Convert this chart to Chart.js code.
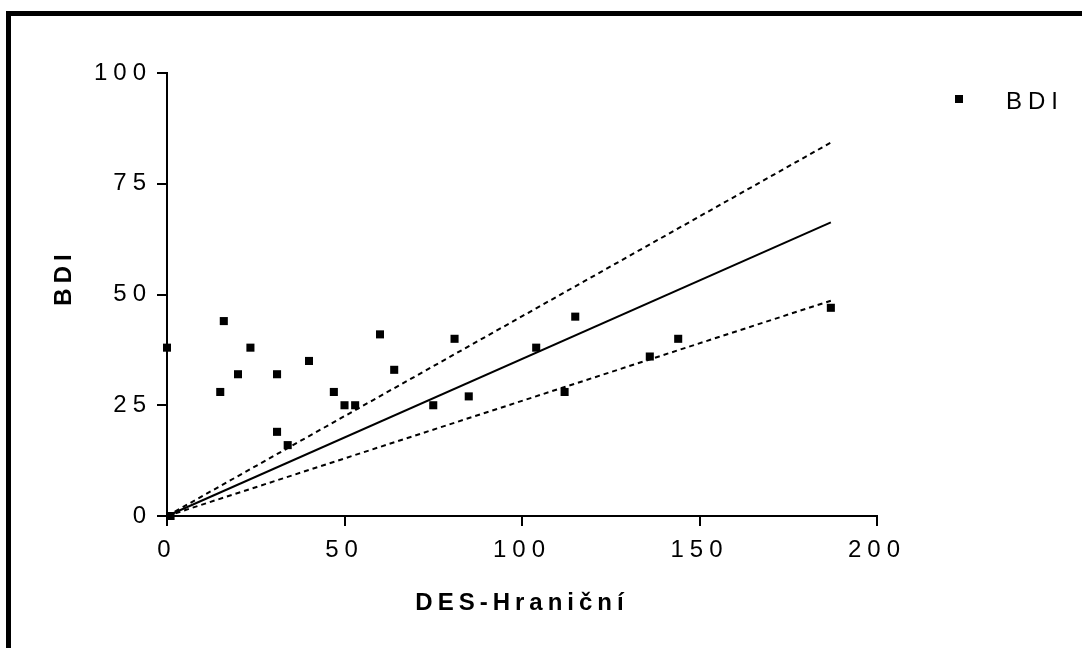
<!DOCTYPE html>
<html><head><meta charset="utf-8">
<script src="https://cdn.jsdelivr.net/npm/chart.js@4/dist/chart.umd.min.js"></script>
<style>
html,body{margin:0;padding:0;background:#fff;overflow:hidden;width:1082px;height:648px;}
#frame{position:absolute;left:6px;top:11px;width:1200px;height:800px;border-left:5px solid #000;border-top:5px solid #000;}
#wrap{position:absolute;left:0;top:0;width:1082px;height:648px;}
</style></head><body>
<div id="frame"></div>
<div id="wrap"><canvas id="c" width="1082" height="648"></canvas></div>
<script>
// Data
const desValues = [0, 1, 15, 16, 20, 23.5, 31, 31, 34, 40, 47, 50, 53, 60, 64, 75, 81, 85, 104, 112, 115, 136, 144, 187];
const bdiValues = [38, 0, 28, 44, 32, 38, 32, 19, 16, 35, 28, 25, 25, 41, 33, 25, 40, 27, 38, 28, 45, 36, 40, 47];
const fitX = [0, 187];
const fitY = [0, 66.3];
const upperY = [0, 84.3];
const lowerY = [0, 48.6];
const xTicks = [0, 50, 100, 150, 200];
const yTicks = [0, 25, 50, 75, 100];
const seriesLabel = 'BDI';
const xTitle = 'DES-Hraniční';
const yTitle = 'BDI';

const FONT = '"Liberation Sans", Arial, sans-serif';
const LS = '6px';
const TITLE_LS = '5px';

const toPts = (xs, ys) => xs.map((x, i) => ({x: x, y: ys[i]}));

const spacingPlugin = {
  id: 'spacing',
  beforeUpdate(chart){ chart.ctx.letterSpacing = LS; },
  beforeLayout(chart){ chart.ctx.letterSpacing = LS; },
  beforeDraw(chart){ chart.ctx.letterSpacing = LS; }
};

function patchTitle(s, dy){
  if (s._titlePatched) return;
  const orig = s.drawTitle.bind(s);
  s.drawTitle = function(){
    const c = s.ctx;
    const prev = c.letterSpacing;
    c.save();
    c.letterSpacing = TITLE_LS;
    c.translate(0, dy);
    orig();
    c.restore();
    c.letterSpacing = prev;
  };
  s._titlePatched = true;
}

const legendPlugin = {
  id: 'customLegend',
  afterDraw(chart){
    const ctx = chart.ctx;
    const ds = chart.data.datasets[0];
    const x0 = chart.chartArea.right + 82, y0 = chart.chartArea.top + 26;
    ctx.save();
    ctx.fillStyle = ds.backgroundColor;
    ctx.fillRect(x0 - 4, y0 - 4, 8, 8);
    ctx.font = '24px ' + FONT;
    ctx.letterSpacing = LS;
    ctx.textBaseline = 'middle';
    ctx.textAlign = 'left';
    ctx.fillStyle = '#000';
    ctx.fillText(ds.label, x0 + 47, y0 + 3);
    ctx.restore();
  }
};

const axisCommon = {
  type: 'linear',
  grid: {drawOnChartArea: false, drawTicks: true, tickLength: 10, color: '#000', lineWidth: 2},
  border: {display: true, color: '#000', width: 2}
};

new Chart(document.getElementById('c'), {
  type: 'scatter',
  data: {
    datasets: [
      {label: seriesLabel, data: toPts(desValues, bdiValues), pointStyle: 'rect', pointRadius: 5.7,
       pointHoverRadius: 5.7, backgroundColor: '#000', borderWidth: 0, clip: false},
      {label: 'fit', data: toPts(fitX, fitY), showLine: true, pointRadius: 0, borderColor: '#000', borderWidth: 2, clip: false},
      {label: 'upper', data: toPts(fitX, upperY), showLine: true, pointRadius: 0, borderColor: '#000', borderWidth: 2, borderDash: [5, 4], clip: false},
      {label: 'lower', data: toPts(fitX, lowerY), showLine: true, pointRadius: 0, borderColor: '#000', borderWidth: 2, borderDash: [5, 4], clip: false}
    ]
  },
  options: {
    responsive: false,
    animation: false,
    devicePixelRatio: 1,
    layout: {padding: {left: 0, top: 73, right: 205, bottom: 0}},
    plugins: {legend: {display: false}, tooltip: {enabled: false}},
    scales: {
      x: Object.assign({}, axisCommon, {
        min: 0, max: 200,
        afterBuildTicks(s){ s.ticks = xTicks.map(v => ({value: v})); },
        ticks: {color: '#000', font: {family: FONT, size: 24}, padding: 10, maxRotation: 0, autoSkip: false},
        title: {display: true, text: xTitle, color: '#000', font: {family: FONT, size: 24, weight: 'bold'}, padding: {top: 0, bottom: 30}},
        afterFit(s){ s.height = 132; },
        afterUpdate(s){ patchTitle(s, 0); }
      }),
      y: Object.assign({}, axisCommon, {
        min: 0, max: 100,
        afterBuildTicks(s){ s.ticks = yTicks.map(v => ({value: v})); },
        ticks: {color: '#000', font: {family: FONT, size: 24}, padding: 5, autoSkip: false},
        title: {display: true, text: yTitle, color: '#000', font: {family: FONT, size: 24, weight: 'bold'}, padding: {top: 50, bottom: 0}},
        afterFit(s){ s.width = 167; },
        afterUpdate(s){ patchTitle(s, -17); }
      })
    }
  },
  plugins: [spacingPlugin, legendPlugin]
});
</script>
</body></html>
